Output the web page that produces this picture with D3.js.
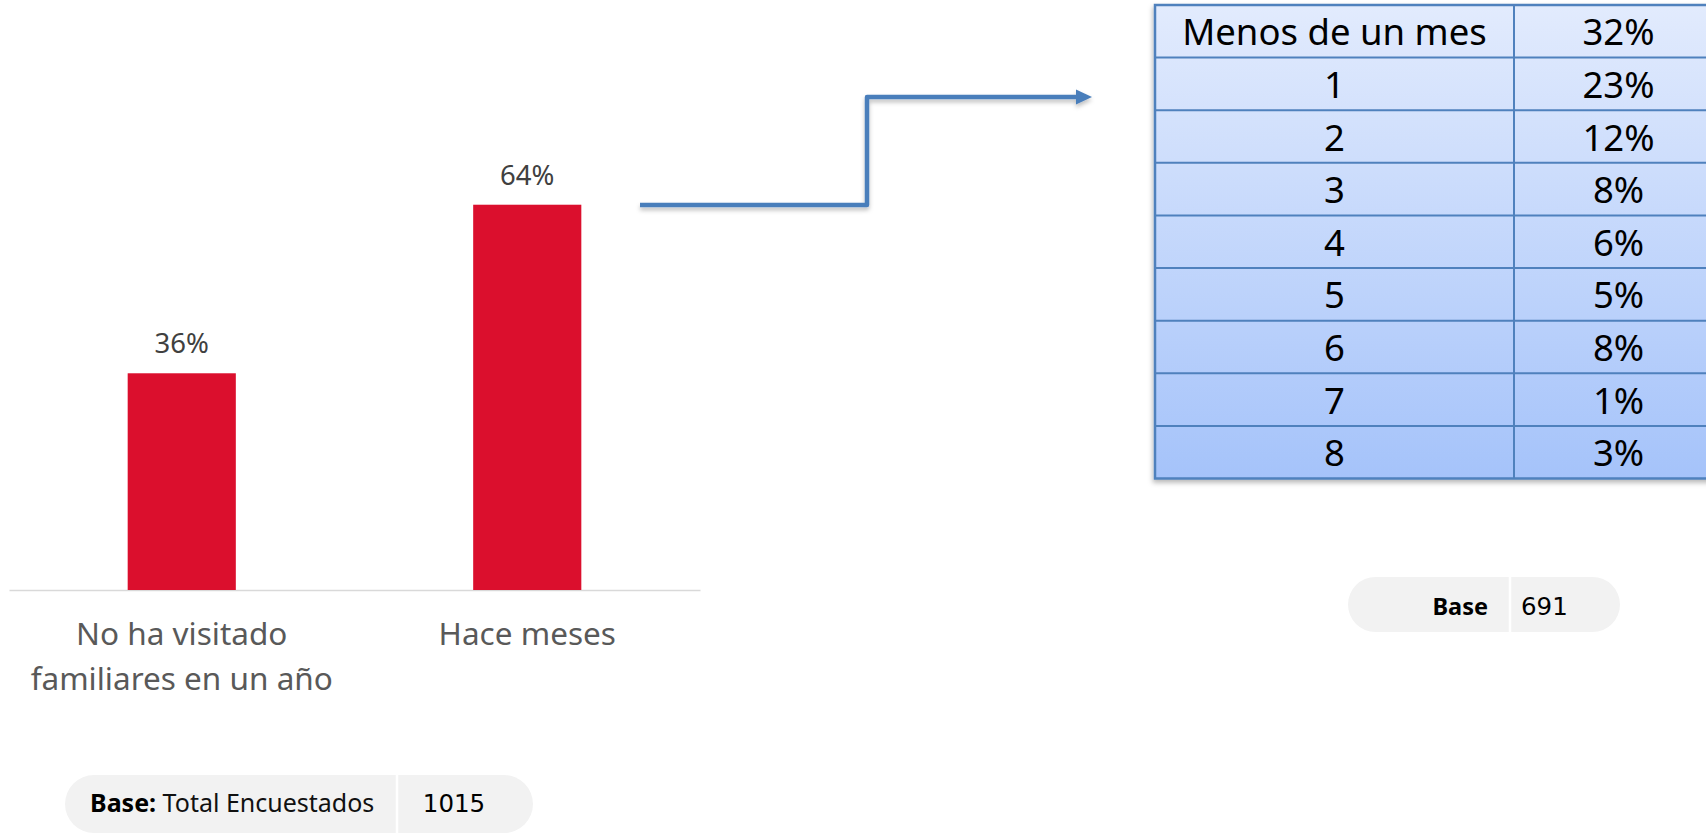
<!DOCTYPE html>
<html>
<head>
<meta charset="utf-8">
<script src="https://cdn.jsdelivr.net/npm/d3@7"></script>
<style>
  html, body { margin: 0; padding: 0; background: #ffffff; }
  svg { display: block; }
</style>
</head>
<body>
<svg id="chart" width="1706" height="836"></svg>
<script>
// ---- Data ----
const categories = ["No ha visitado familiares en un año", "Hace meses"];
const categoryLines = [["No ha visitado", "familiares en un año"], ["Hace meses"]];
const values = [36, 64];
const valueLabels = ["36%", "64%"];

const tableLabels = ["Menos de un mes", "1", "2", "3", "4", "5", "6", "7", "8"];
const tableValues = ["32%", "23%", "12%", "8%", "6%", "5%", "8%", "1%", "3%"];

const baseLeftLabelBold = "Base:";
const baseLeftLabel = " Total Encuestados";
const baseLeftValue = "1015";
const baseRightLabel = "Base";
const baseRightValue = "691";

// ---- Setup ----
const svg = d3.select("#chart");
const defs = svg.append("defs");

const sans = "'Noto Sans', 'Open Sans', sans-serif";

defs.append("filter").attr("id", "shadow")
  .attr("x", "-10%").attr("y", "-10%").attr("width", "130%").attr("height", "140%")
  .append("feDropShadow")
  .attr("dx", -1).attr("dy", 3).attr("stdDeviation", 2.5)
  .attr("flood-color", "#000").attr("flood-opacity", 0.28);

defs.append("filter").attr("id", "shadowLine")
  .attr("x", "-10%").attr("y", "-50%").attr("width", "120%").attr("height", "200%")
  .append("feDropShadow")
  .attr("dx", 0).attr("dy", 3).attr("stdDeviation", 2)
  .attr("flood-color", "#000").attr("flood-opacity", 0.25);

const grad = defs.append("linearGradient").attr("id", "tblGrad")
  .attr("x1", 0).attr("y1", 0).attr("x2", 0).attr("y2", 1);
grad.append("stop").attr("offset", "0%").attr("stop-color", "#e2ebfd");
grad.append("stop").attr("offset", "100%").attr("stop-color", "#a5c3fa");

// ---- Bar chart ----
const x = d3.scaleBand().domain(categories).range([9, 700]).padding(0);
const y = d3.scaleLinear().domain([0, 100]).range([590, -12]);
const barW = x.bandwidth() * 0.313;

// baseline axis
const axis = d3.axisBottom(x).tickSize(0).tickFormat("");
const axG = svg.append("g").attr("transform", `translate(0,${y(0)})`).call(axis);
axG.select(".domain").attr("stroke", "#d9d9d9").attr("stroke-width", 1.5);

svg.append("g").selectAll("rect").data(categories).join("rect")
  .attr("x", d => x(d) + x.bandwidth() / 2 - barW / 2)
  .attr("y", (d, i) => y(values[i]))
  .attr("width", barW)
  .attr("height", (d, i) => y(0) - y(values[i]))
  .attr("fill", "#db0f2d");

svg.append("g").selectAll("text").data(categories).join("text")
  .attr("x", d => x(d) + x.bandwidth() / 2)
  .attr("y", (d, i) => y(values[i]) - 20)
  .attr("text-anchor", "middle")
  .attr("font-family", sans)
  .attr("font-size", 27.5)
  .attr("fill", "#404040")
  .text((d, i) => valueLabels[i]);

const catG = svg.append("g").selectAll("text").data(categories).join("text")
  .attr("x", d => x(d) + x.bandwidth() / 2)
  .attr("y", 645)
  .attr("text-anchor", "middle")
  .attr("font-family", sans)
  .attr("font-size", 31.5)
  .attr("fill", "#595959");
catG.each(function(d, i) {
  d3.select(this).selectAll("tspan").data(categoryLines[i]).join("tspan")
    .attr("x", x(d) + x.bandwidth() / 2)
    .attr("dy", (l, j) => j === 0 ? 0 : 45)
    .text(l => l);
});

// ---- Connector arrow ----
const arrowPts = [[640, 205], [867, 205], [867, 97], [1078, 97]];
const arrowG = svg.append("g").attr("filter", "url(#shadowLine)");
arrowG.append("path")
  .attr("d", d3.line()(arrowPts))
  .attr("fill", "none")
  .attr("stroke", "#4a7ebb")
  .attr("stroke-width", 4.5)
  .attr("stroke-linejoin", "round");
arrowG.append("path")
  .attr("d", "M1076,89.5 L1092,97 L1076,104.5 Z")
  .attr("fill", "#4a7ebb");

// ---- Table ----
const tblLeft = 1155, tblMid = 1514, tblRight = 1723;
const rowY = d3.scaleBand().domain(tableLabels).range([5, 478.5]);
const tbl = svg.append("g");
tbl.append("rect")
  .attr("x", tblLeft).attr("y", rowY.range()[0])
  .attr("width", tblRight - tblLeft).attr("height", rowY.range()[1] - rowY.range()[0])
  .attr("fill", "url(#tblGrad)")
  .attr("stroke", "#4f81bd").attr("stroke-width", 2.5)
  .attr("filter", "url(#shadow)");
tbl.append("g").selectAll("line").data(tableLabels.slice(1)).join("line")
  .attr("x1", tblLeft).attr("x2", tblRight)
  .attr("y1", d => rowY(d)).attr("y2", d => rowY(d))
  .attr("stroke", "#4f81bd").attr("stroke-width", 2);
tbl.append("line")
  .attr("x1", tblMid).attr("x2", tblMid)
  .attr("y1", rowY.range()[0]).attr("y2", rowY.range()[1])
  .attr("stroke", "#4f81bd").attr("stroke-width", 2);
tbl.append("g").selectAll("text").data(tableLabels).join("text")
  .attr("x", (tblLeft + tblMid) / 2)
  .attr("y", d => rowY(d) + rowY.bandwidth() / 2 + 14)
  .attr("text-anchor", "middle")
  .attr("font-family", sans).attr("font-size", 36.5).attr("fill", "#000")
  .text(d => d);
tbl.append("g").selectAll("text").data(tableValues).join("text")
  .attr("x", (tblMid + tblRight) / 2)
  .attr("y", (d, i) => rowY(tableLabels[i]) + rowY.bandwidth() / 2 + 14)
  .attr("text-anchor", "middle")
  .attr("font-family", sans).attr("font-size", 36.5).attr("fill", "#000")
  .text(d => d);

// ---- Base pills ----
function pill(x0, y0, w, h, divX) {
  const g = svg.append("g");
  g.append("rect").attr("x", x0).attr("y", y0).attr("width", w).attr("height", h)
    .attr("rx", h / 2).attr("ry", h / 2).attr("fill", "#f2f2f2");
  g.append("line").attr("x1", divX).attr("x2", divX).attr("y1", y0).attr("y2", y0 + h)
    .attr("stroke", "#ffffff").attr("stroke-width", 2.5);
  return g;
}
const p1 = pill(65, 775, 468, 58, 397);
const t1 = p1.append("text").attr("x", 90).attr("y", 812)
  .attr("font-family", sans).attr("font-size", 25).attr("fill", "#000");
t1.append("tspan").attr("font-weight", "bold").text(baseLeftLabelBold);
t1.append("tspan").attr("fill", "#111").text(baseLeftLabel);
p1.append("text").attr("x", 454).attr("y", 812).attr("text-anchor", "middle")
  .attr("font-family", "'DejaVu Sans', sans-serif").attr("font-size", 24.5).attr("fill", "#000")
  .text(baseLeftValue);

const p2 = pill(1348, 577, 272, 55, 1510);
p2.append("text").attr("x", 1488).attr("y", 614.5).attr("text-anchor", "end")
  .attr("font-family", sans).attr("font-size", 23.5).attr("font-weight", "bold").attr("fill", "#000")
  .text(baseRightLabel);
p2.append("text").attr("x", 1521).attr("y", 614.5)
  .attr("font-family", "'DejaVu Sans', sans-serif").attr("font-size", 24.5).attr("fill", "#000")
  .text(baseRightValue);
</script>
</body>
</html>
